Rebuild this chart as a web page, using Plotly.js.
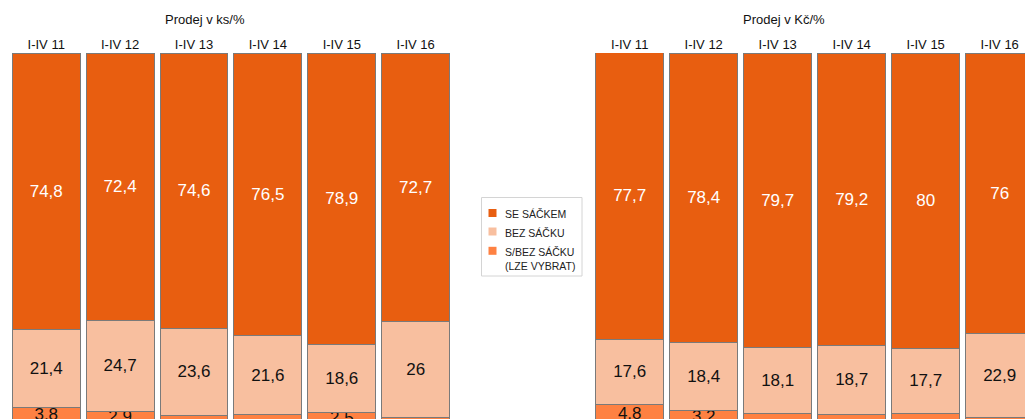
<!DOCTYPE html>
<html>
<head>
<meta charset="utf-8">
<script src="https://cdn.plot.ly/plotly-3.0.1.min.js"></script>
<style>
html, body { margin: 0; padding: 0; overflow: hidden; background: #fff; }
#chart { width: 1060px; height: 440px; }
</style>
</head>
<body>
<div id="chart"></div>
<script>
// ---- data ----
const categories = ['I-IV 11', 'I-IV 12', 'I-IV 13', 'I-IV 14', 'I-IV 15', 'I-IV 16'];
const seriesNames = ['SE SÁČKEM', 'BEZ SÁČKU', 'S/BEZ SÁČKU<br>(LZE VYBRAT)'];
const panelTitles = ['Prodej v ks/%', 'Prodej v Kč/%'];

// Prodej v ks/%
const ksSeSackem = [74.8, 72.4, 74.6, 76.5, 78.9, 72.7];
const ksBezSacku = [21.4, 24.7, 23.6, 21.6, 18.6, 26];
const ksSBez     = [3.8, 2.9, 1.8, 1.9, 2.5, 1.3];

// Prodej v Kč/%
const kcSeSackem = [77.7, 78.4, 79.7, 79.2, 80, 76];
const kcBezSacku = [17.6, 18.4, 18.1, 18.7, 17.7, 22.9];
const kcSBez     = [4.8, 3.2, 2.2, 2.1, 2.3, 1.1];

// ---- styles ----
const colors = ['#E85E10', '#F8BF9F', '#FE8142'];
const textColors = ['#ffffff', '#111111', '#111111'];
const W = 1060, H = 440;
const FONT = 'Liberation Sans, Arial, sans-serif';
const px = x => x / W;
const py = y => 1 - y / H;

const fmt = v => String(v).replace('.', ',');
const fmtSmall = v => (v >= 2.5 ? fmt(v) : '');

function mkTrace(vals, idx, xa, labelFn) {
  return {
    type: 'bar',
    x: categories,
    y: vals,
    xaxis: xa,
    yaxis: 'y',
    name: seriesNames[idx],
    showlegend: false,
    text: vals.map(labelFn),
    textposition: 'inside',
    insidetextanchor: 'middle',
    constraintext: 'none',
    textangle: 0,
    textfont: { family: FONT, size: 17, color: textColors[idx] },
    marker: { color: colors[idx], line: { color: '#7a7a7a', width: 1 } },
    hoverinfo: 'skip'
  };
}

const data = [
  mkTrace(ksSBez, 2, 'x', fmtSmall),
  mkTrace(ksBezSacku, 1, 'x', fmt),
  mkTrace(ksSeSackem, 0, 'x', fmt),
  mkTrace(kcSBez, 2, 'x2', fmtSmall),
  mkTrace(kcBezSacku, 1, 'x2', fmt),
  mkTrace(kcSeSackem, 0, 'x2', fmt)
];

const xCommon = {
  type: 'category',
  side: 'top',
  showgrid: false,
  zeroline: false,
  showline: false,
  ticks: '',
  tickfont: { family: FONT, size: 13, color: '#111' },
  fixedrange: true
};

// legend drawn as shapes + annotations
const legendShapes = [{
  type: 'rect', xref: 'paper', yref: 'paper',
  x0: px(481.5), x1: px(582), y0: py(276), y1: py(197.5),
  line: { color: '#d4d4d4', width: 1 }, fillcolor: 'rgba(0,0,0,0)'
}];
const legendY = [213, 231.5, 250.8];
const legendAnn = [];
seriesNames.forEach((n, i) => {
  legendShapes.push({
    type: 'rect', xref: 'paper', yref: 'paper',
    x0: px(488.5), x1: px(496.5), y0: py(legendY[i] + 4), y1: py(legendY[i] - 4),
    line: { width: 0 }, fillcolor: colors[i]
  });
  legendAnn.push({
    xref: 'paper', yref: 'paper', x: px(503), y: py(legendY[i] - 6.5),
    xanchor: 'left', yanchor: 'top', align: 'left', showarrow: false,
    text: n, font: { family: FONT, size: 10.5, color: '#222' }
  });
});

const titleAnn = [
  { xref: 'paper', yref: 'paper', x: px(205), y: py(20), xanchor: 'center', yanchor: 'middle',
    showarrow: false, text: panelTitles[0], font: { family: FONT, size: 13, color: '#111' } },
  { xref: 'paper', yref: 'paper', x: px(784), y: py(20), xanchor: 'center', yanchor: 'middle',
    showarrow: false, text: panelTitles[1], font: { family: FONT, size: 13, color: '#111' } }
];

const layout = {
  width: W,
  height: H,
  margin: { l: 0, r: 0, t: 0, b: 0, pad: 0 },
  paper_bgcolor: '#fff',
  plot_bgcolor: '#fff',
  barmode: 'stack',
  bargap: 0.081,
  showlegend: false,
  xaxis: Object.assign({}, xCommon, { domain: [px(9.3), px(452.6)], anchor: 'y' }),
  xaxis2: Object.assign({}, xCommon, { domain: [px(592.7), px(1036.7)], anchor: 'y' }),
  yaxis: {
    range: [0, 100],
    domain: [py(422), py(53)],
    visible: false,
    fixedrange: true
  },
  shapes: legendShapes,
  annotations: titleAnn.concat(legendAnn),
  font: { family: FONT }
};

Plotly.newPlot('chart', data, layout, { displayModeBar: false, staticPlot: true });
</script>
</body>
</html>
